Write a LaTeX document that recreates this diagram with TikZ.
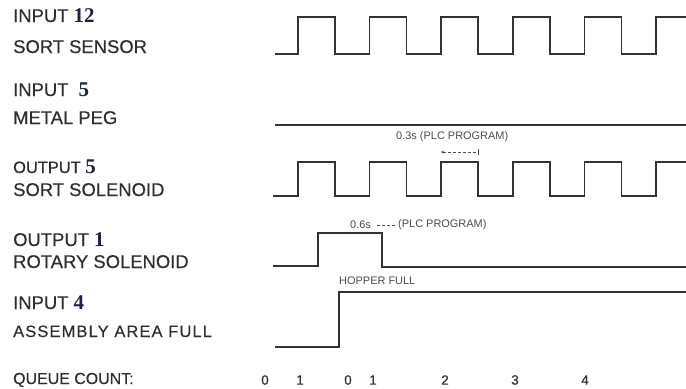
\documentclass[tikz,border=0pt]{standalone}
\usepackage{fontspec}
\setmainfont{Liberation Sans}
\newfontfamily\numfont{Liberation Serif}
\usetikzlibrary{arrows.meta,positioning}
\definecolor{numcol}{RGB}{28,34,72}
\newcommand\chan[1]{{\numfont\bfseries\fontsize{21}{22}\selectfont\color{numcol}#1}}

\begin{document}
\begin{tikzpicture}[x=1bp,y=-1bp,>=Stealth,
  wave/.style={line width=1.7bp,draw=black!80,line join=miter},
  lbl/.style={anchor=base west,inner sep=0pt,text=black!82,font=\fontsize{18.5}{20}\selectfont\addfontfeature{FakeBold=0.4}},
  note/.style={inner sep=0pt,text=black!70,font=\fontsize{11}{12}\selectfont},
  cnt/.style={inner sep=0pt,text=black!80,font=\fontsize{13.5}{15}\selectfont\addfontfeature{FakeBold=0.6}}]
\useasboundingbox (0,0) rectangle (686,388);

% signal names
\node[lbl] (in12)  at (13,22)  {INPUT \chan{12}};
\node[lbl] (sens)  at (13,53)  {SORT SENSOR};
\node[lbl] (in5)   at (13,96)  {INPUT \ \chan{5}};
\node[lbl] (peg)   at (13,124) {METAL PEG};
\node[lbl,font=\fontsize{16.5}{18}\selectfont\addfontfeature{FakeBold=0.4}] (out5) at (13,173) {OUTPUT \chan{5}};
\node[lbl] (sol)   at (13,196) {SORT SOLENOID};
\node[lbl] (out1)  at (13,246) {OUTPUT \chan{1}};
\node[lbl] (rot)   at (13,268) {ROTARY SOLENOID};
\node[lbl] (in4)   at (13,309) {INPUT \chan{4}};
\node[lbl,font=\fontsize{16.5}{18}\selectfont\addfontfeature{FakeBold=0.4,LetterSpace=7}] (area) at (13,337) {ASSEMBLY AREA FULL};
\node[lbl,font=\fontsize{16}{18}\selectfont\addfontfeature{FakeBold=0.4}] (queue) at (13,384) {QUEUE COUNT:};

% sort sensor
\draw[wave] (275,54) \foreach \k in {0,...,4}{
  -- ({298+71.6*\k},54) -- ++(0,-37) -- ++(37,0) -- ++(0,37)}
  -- (656,54) -- (656,17) -- (686,17);
% metal peg
\draw[wave] (275,125) -- (686,125);
% sort solenoid
\draw[wave] (273,196) \foreach \k in {0,...,4}{
  -- ({298+71.6*\k},196) -- ++(0,-34) -- ++(37,0) -- ++(0,34)}
  -- (656,196) -- (656,162) -- (686,162);
% rotary solenoid
\draw[wave] (273,266) -- (318,266) -- (318,233) -- (382,233) -- (382,267) -- (686,267);
% assembly area full
\draw[wave] (275,347) -- (339,347) -- (339,292) -- (686,292);

% timing notes
\node[note,anchor=west] (t03) at (396,137) {0.3s (PLC PROGRAM)};
\coordinate (p0) at (441,152);
\coordinate (p1) at (478,152);
\draw[densely dashed,thin,black!70,{Stealth[length=3pt,width=3pt]}-{Bar[width=7pt]}] (p0) -- (p1);
\node[note,anchor=west] (t06) at (350,225) {0.6s};
\node[note,anchor=west] (plc) at (398,225) {(PLC PROGRAM)};
\draw[densely dashed,thin,black!70] ([xshift=6pt]t06.east) -- ([xshift=-3pt]plc.west);
\node[note,anchor=west] (hop) at (339,281) {HOPPER FULL};

% queue count
\foreach \x/\n [count=\i] in {265/0,300/1,348/0,373/1,445/2,515/3,585/4}
  \node[cnt] (q\i) at (\x,380) {\n};
\end{tikzpicture}
\end{document}
